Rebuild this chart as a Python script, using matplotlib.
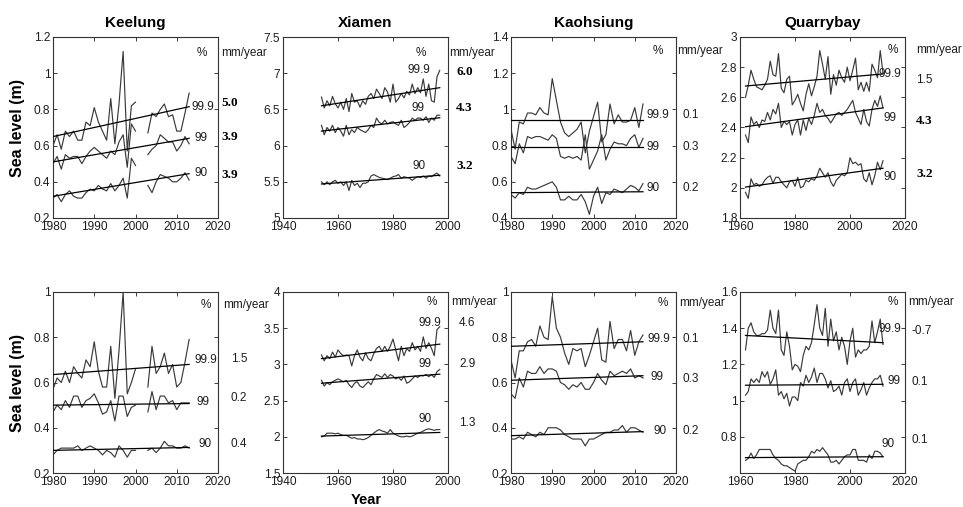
import numpy as np
import matplotlib
matplotlib.use("Agg")
import matplotlib.pyplot as plt
import matplotlib.transforms as mtransforms
from matplotlib.ticker import FormatStrFormatter

nan = np.nan

stations = ["Keelung", "Xiamen", "Kaohsiung", "Quarrybay"]
first_year = [1980, 1954, 1980, 1962]
last_year = [2013, 1997, 2012, 2012]
levels = ["99.9", "99", "90"]

# ---- upper row: sea level (m) per percentile ----
kee_top_999 = [0.60, 0.66, 0.58, 0.68, 0.65, 0.68, 0.63, 0.63, 0.73, 0.71,
               0.81, 0.73, 0.68, 0.63, 0.86, 0.61, 0.83, 1.12, 0.57, 0.82,
               0.84, nan, nan, 0.67, 0.78, 0.76, 0.80, 0.83, 0.76, 0.77,
               0.68, 0.68, 0.78, 0.89]
kee_top_99 = [0.50, 0.54, 0.47, 0.55, 0.53, 0.54, 0.54, 0.50, 0.54, 0.57,
              0.59, 0.57, 0.55, 0.53, 0.57, 0.55, 0.62, 0.66, 0.48, 0.72,
              0.68, nan, nan, 0.55, 0.58, 0.60, 0.66, 0.64, 0.62, 0.62,
              0.57, 0.60, 0.65, 0.61]
kee_top_90 = [0.31, 0.33, 0.29, 0.33, 0.35, 0.32, 0.31, 0.31, 0.34, 0.36,
              0.35, 0.38, 0.36, 0.35, 0.39, 0.35, 0.38, 0.42, 0.31, 0.53,
              0.49, nan, nan, 0.38, 0.34, 0.40, 0.44, 0.43, 0.42, 0.40,
              0.40, 0.42, 0.45, 0.41]

xia_top_999 = [6.67, 6.52, 6.62, 6.55, 6.68, 6.58, 6.52, 6.60, 6.50, 6.65,
               6.47, 6.72, 6.60, 6.62, 6.53, 6.62, 6.57, 6.68, 6.72, 6.65,
               6.78, 6.72, 6.65, 6.80, 6.74, 6.60, 6.85, 6.60, 6.65, 6.72,
               6.66, 6.75, 6.70, 6.85, 6.72, 6.80, 6.73, 6.92, 6.68, 6.85,
               6.62, 6.60, 6.95, 7.04]
xia_top_99 = [6.28, 6.15, 6.25, 6.20, 6.28, 6.18, 6.25, 6.20, 6.13, 6.28,
              6.15, 6.22, 6.18, 6.25, 6.22, 6.20, 6.18, 6.22, 6.28, 6.25,
              6.38, 6.32, 6.30, 6.35, 6.30, 6.32, 6.33, 6.30, 6.28, 6.35,
              6.25, 6.28, 6.32, 6.38, 6.35, 6.38, 6.38, 6.35, 6.40, 6.32,
              6.38, 6.35, 6.42, 6.42]
xia_top_90 = [5.50, 5.46, 5.50, 5.46, 5.50, 5.52, 5.48, 5.50, 5.45, 5.50,
              5.38, 5.52, 5.45, 5.48, 5.42, 5.48, 5.48, 5.50, 5.58, 5.60,
              5.58, 5.56, 5.55, 5.54, 5.53, 5.55, 5.57, 5.58, 5.60, 5.55,
              5.57, 5.56, 5.55, 5.52, 5.55, 5.57, 5.56, 5.58, 5.55, 5.58,
              5.57, 5.60, 5.62, 5.58]

kao_top_999 = [0.89, 0.78, 0.93, 0.92, 0.98, 0.98, 0.97, 1.01, 0.98, 0.97,
               1.17, 1.05, 0.93, 0.87, 0.85, 0.87, 0.89, 0.93, 0.76, 0.88,
               0.96, 1.04, 0.82, 0.86, 1.03, 0.92, 0.97, 0.93, 0.93, 0.94,
               1.01, 0.90, 1.03]
kao_top_99 = [0.74, 0.70, 0.81, 0.76, 0.85, 0.84, 0.85, 0.85, 0.84, 0.83,
              0.86, 0.84, 0.74, 0.73, 0.74, 0.73, 0.74, 0.72, 0.86, 0.67,
              0.72, 0.77, 0.86, 0.72, 0.78, 0.82, 0.81, 0.81, 0.80, 0.84,
              0.86, 0.79, 0.84]
kao_top_90 = [0.53, 0.51, 0.54, 0.53, 0.57, 0.56, 0.56, 0.57, 0.58, 0.59,
              0.60, 0.57, 0.50, 0.50, 0.52, 0.50, 0.50, 0.53, 0.49, 0.42,
              0.52, 0.57, 0.48, 0.54, 0.53, 0.56, 0.55, 0.54, 0.56, 0.58,
              0.57, 0.55, 0.59]

qua_top_999 = [2.60, 2.68, 2.78, 2.72, 2.67, 2.66, 2.65, 2.68, 2.72, 2.84,
               2.75, 2.74, 2.89, 2.66, 2.63, 2.72, 2.74, 2.55, 2.58, 2.62,
               2.56, 2.51, 2.62, 2.69, 2.61, 2.67, 2.74, 2.91, 2.82, 2.72,
               2.87, 2.62, 2.75, 2.68, 2.78, 2.73, 2.70, 2.80, 2.71, 2.78,
               2.86, 2.65, 2.70, 2.64, 2.70, 2.64, 2.82, 2.78, 2.73, 2.91,
               2.76]
qua_top_99 = [2.35, 2.30, 2.47, 2.42, 2.44, 2.40, 2.45, 2.44, 2.50, 2.45,
              2.52, 2.49, 2.56, 2.40, 2.44, 2.42, 2.44, 2.35, 2.42, 2.45,
              2.35, 2.45, 2.38, 2.46, 2.42, 2.48, 2.56, 2.50, 2.52, 2.48,
              2.46, 2.43, 2.46, 2.49, 2.50, 2.48, 2.50, 2.52, 2.55, 2.58,
              2.50, 2.46, 2.42, 2.52, 2.44, 2.41, 2.52, 2.58, 2.54, 2.61,
              2.53]
qua_top_90 = [1.97, 1.93, 2.06, 2.02, 2.03, 2.01, 2.02, 2.05, 2.07, 2.08,
              2.03, 2.07, 2.07, 2.04, 2.02, 2.00, 2.04, 2.05, 2.01, 2.07,
              2.00, 2.01, 2.05, 2.04, 2.06, 2.05, 2.08, 2.13, 2.10, 2.07,
              2.10, 2.04, 2.01, 2.05, 2.07, 2.09, 2.08, 2.10, 2.20, 2.16,
              2.17, 2.15, 2.16, 2.06, 2.04, 2.10, 2.02, 2.08, 2.17, 2.12,
              2.18]

# ---- lower row ----
kee_bot_999 = [0.57, 0.62, 0.60, 0.65, 0.60, 0.67, 0.64, 0.62, 0.70, 0.67,
               0.78, 0.65, 0.58, 0.58, 0.76, 0.53, 0.74, 1.00, 0.55, 0.60,
               0.66, nan, nan, 0.58, 0.76, 0.64, 0.67, 0.73, 0.64, 0.68,
               0.58, 0.60, 0.69, 0.79]
kee_bot_99 = [0.47, 0.50, 0.48, 0.52, 0.49, 0.54, 0.54, 0.49, 0.52, 0.53,
              0.55, 0.51, 0.46, 0.47, 0.52, 0.43, 0.54, 0.54, 0.45, 0.49,
              0.50, nan, nan, 0.47, 0.56, 0.48, 0.54, 0.54, 0.51, 0.52,
              0.48, 0.51, 0.51, 0.51]
kee_bot_90 = [0.28, 0.30, 0.31, 0.31, 0.31, 0.31, 0.32, 0.30, 0.31, 0.32,
              0.31, 0.30, 0.28, 0.30, 0.29, 0.27, 0.32, 0.30, 0.27, 0.30,
              0.30, nan, nan, 0.30, 0.31, 0.29, 0.31, 0.34, 0.32, 0.32,
              0.31, 0.31, 0.32, 0.31]

xia_bot_999 = [3.13, 3.05, 3.12, 3.08, 3.17, 3.10, 3.20, 3.15, 3.12, 3.13,
               3.12, 2.98, 3.12, 3.20, 3.10, 3.05, 3.16, 3.08, 3.05, 3.15,
               3.22, 3.25, 3.18, 3.25, 3.18, 3.25, 3.35, 3.20, 3.05, 3.25,
               3.12, 3.22, 3.18, 3.30, 3.20, 3.25, 3.18, 3.38, 3.22, 3.30,
               3.22, 3.12, 3.48, 3.52]
xia_bot_99 = [2.78, 2.70, 2.75, 2.72, 2.76, 2.78, 2.80, 2.78, 2.76, 2.78,
              2.72, 2.68, 2.74, 2.76, 2.70, 2.68, 2.72, 2.76, 2.72, 2.80,
              2.86, 2.84, 2.82, 2.87, 2.82, 2.86, 2.84, 2.80, 2.82, 2.78,
              2.84, 2.74, 2.76, 2.80, 2.84, 2.82, 2.85, 2.84, 2.86, 2.83,
              2.86, 2.82, 2.90, 2.93]
xia_bot_90 = [2.00, 2.01, 2.05, 2.05, 2.05, 2.04, 2.05, 2.03, 2.02, 2.02,
              2.00, 1.98, 1.99, 1.97, 1.97, 1.96, 1.97, 1.99, 2.02, 2.05,
              2.08, 2.10, 2.08, 2.07, 2.05, 2.10, 2.05, 2.03, 2.01, 2.00,
              2.00, 2.01, 2.00, 2.01, 2.03, 2.05, 2.06, 2.08, 2.10, 2.11,
              2.10, 2.09, 2.10, 2.10]

kao_bot_999 = [0.70, 0.62, 0.74, 0.74, 0.78, 0.79, 0.76, 0.85, 0.80, 0.79,
               0.98, 0.84, 0.80, 0.73, 0.68, 0.75, 0.74, 0.75, 0.67, 0.72,
               0.78, 0.84, 0.70, 0.69, 0.87, 0.75, 0.79, 0.79, 0.74, 0.83,
               0.72, 0.78, 0.81]
kao_bot_99 = [0.55, 0.53, 0.62, 0.58, 0.65, 0.64, 0.64, 0.67, 0.64, 0.66,
              0.66, 0.65, 0.60, 0.59, 0.57, 0.59, 0.58, 0.60, 0.57, 0.57,
              0.60, 0.64, 0.61, 0.59, 0.65, 0.63, 0.64, 0.65, 0.64, 0.66,
              0.62, 0.63, 0.62]
kao_bot_90 = [0.35, 0.35, 0.36, 0.35, 0.38, 0.37, 0.36, 0.38, 0.37, 0.40,
              0.40, 0.40, 0.39, 0.37, 0.36, 0.35, 0.35, 0.35, 0.32, 0.35,
              0.35, 0.36, 0.37, 0.38, 0.38, 0.39, 0.39, 0.41, 0.38, 0.40,
              0.40, 0.39, 0.38]

qua_bot_999 = [1.28, 1.40, 1.43, 1.38, 1.36, 1.36, 1.37, 1.37, 1.39, 1.50,
               1.40, 1.37, 1.50, 1.28, 1.25, 1.38, 1.30, 1.17, 1.20, 1.19,
               1.16, 1.25, 1.30, 1.28, 1.32, 1.42, 1.53, 1.40, 1.36, 1.51,
               1.30, 1.45, 1.33, 1.38, 1.28, 1.35, 1.30, 1.20, 1.33, 1.40,
               1.24, 1.28, 1.26, 1.28, 1.28, 1.30, 1.44, 1.32, 1.38, 1.45,
               1.31]
qua_bot_99 = [1.03, 1.05, 1.12, 1.10, 1.12, 1.10, 1.16, 1.13, 1.16, 1.09,
              1.12, 1.17, 1.03, 1.05, 1.01, 1.04, 0.97, 1.02, 1.02, 1.00,
              1.10, 1.08, 1.14, 1.10, 1.13, 1.18, 1.10, 1.15, 1.15, 1.12,
              1.07, 1.11, 1.05, 1.06, 1.08, 1.03, 1.10, 1.12, 1.05, 1.10,
              1.12, 1.03, 1.06, 1.10, 1.03, 1.07, 1.10, 1.12, 1.12, 1.14,
              1.08]
qua_bot_90 = [0.67, 0.68, 0.71, 0.68, 0.70, 0.73, 0.73, 0.73, 0.73, 0.73,
              0.70, 0.68, 0.67, 0.65, 0.64, 0.64, 0.63, 0.62, 0.61, 0.65,
              0.66, 0.67, 0.67, 0.69, 0.72, 0.71, 0.73, 0.72, 0.74, 0.72,
              0.70, 0.66, 0.66, 0.67, 0.65, 0.67, 0.69, 0.70, 0.70, 0.73,
              0.73, 0.67, 0.67, 0.67, 0.66, 0.70, 0.68, 0.72, 0.72, 0.71,
              0.69]

# linear trend values at first and last year, per percentile
trend_top = [
    [[0.65, 0.815], [0.51, 0.64], [0.32, 0.445]],
    [[6.55, 6.80], [6.20, 6.385], [5.47, 5.59]],
    [[0.94, 0.94], [0.79, 0.79], [0.54, 0.545]],
    [[2.675, 2.755], [2.405, 2.53], [2.005, 2.13]],
]
trend_bot = [
    [[0.635, 0.68], [0.50, 0.507], [0.30, 0.313]],
    [[3.08, 3.28], [2.74, 2.865], [2.01, 2.06]],
    [[0.76, 0.78], [0.61, 0.63], [0.365, 0.383]],
    [[1.36, 1.32], [1.085, 1.09], [0.685, 0.69]],
]

# trend rates (mm/year)
rates_top = [["5.0", "3.9", "3.9"], ["6.0", "4.3", "3.2"],
             ["0.1", "0.3", "0.2"], ["1.5", "4.3", "3.2"]]
rates_bot = [["1.5", "0.2", "0.4"], ["4.6", "2.9", "1.3"],
             ["0.1", "0.3", "0.2"], ["-0.7", "0.1", "0.1"]]

series_top = [[kee_top_999, kee_top_99, kee_top_90],
              [xia_top_999, xia_top_99, xia_top_90],
              [kao_top_999, kao_top_99, kao_top_90],
              [qua_top_999, qua_top_99, qua_top_90]]
series_bot = [[kee_bot_999, kee_bot_99, kee_bot_90],
              [xia_bot_999, xia_bot_99, xia_bot_90],
              [kao_bot_999, kao_bot_99, kao_bot_90],
              [qua_bot_999, qua_bot_99, qua_bot_90]]

# ---------------- layout ----------------
W, H = 963, 507
SANS = "Liberation Sans"
SERIF = "Liberation Serif"
TXT = "#1e1e1e"
LINE = "#3a3a3a"

xlims = [(1980, 2020), (1940, 2000), (1980, 2020), (1960, 2020)]
xsteps = [10, 20, 10, 20]
ylims_top = [(0.2, 1.2, 0.2), (5, 7.5, 0.5), (0.4, 1.4, 0.2), (1.8, 3.0, 0.2)]
ylims_bot = [(0.2, 1.0, 0.2), (1.5, 4.0, 0.5), (0.2, 1.0, 0.2), (0.6, 1.6, 0.2)]

# percentile label anchors (x in years, y in data units)
lab_top = [
    [(2013.5, 0.815), (2014.2, 0.64), (2014.4, 0.45)],
    [(1985.3, 7.04), (1986.8, 6.52), (1987.2, 5.72)],
    [(2012.9, 0.97), (2012.9, 0.795), (2012.9, 0.565)],
    [(2010.2, 2.754), (2012.0, 2.46), (2012.0, 2.073)],
]
lab_bot = [
    [(2014.2, 0.70), (2014.8, 0.515), (2015.2, 0.326)],
    [(1989.2, 3.57), (1989.2, 3.0), (1989.2, 2.24)],
    [(2013.2, 0.793), (2013.8, 0.625), (2014.5, 0.385)],
    [(2010.2, 1.396), (2013.5, 1.109), (2011.5, 0.761)],
]
# rate text: x in axes fraction, y in data units
rate_top = [
    (1.02, [0.835, 0.65, 0.44]),
    (1.05, [7.02, 6.52, 5.72]),
    (1.04, [0.97, 0.795, 0.565]),
    (1.067, [2.717, 2.44, 2.094]),
]
rate_bot = [
    (1.077, [0.704, 0.533, 0.326]),
    (1.067, [3.57, 3.0, 2.19]),
    (1.04, [0.793, 0.615, 0.385]),
    (1.04, [1.387, 1.105, 0.78]),
]
bold_top = [[True] * 3, [True] * 3, [False] * 3, [False, True, True]]
bold_bot = [[False] * 3] * 4
# "%" centre (axes x, axes y) and "mm/year" left x
hdr_top = [(0.90, 0.91, 1.02), (0.835, 0.91, 1.01), (0.89, 0.92, 1.01), (0.925, 0.93, 1.067)]
hdr_bot = [(0.927, 0.93, 1.03), (0.90, 0.946, 1.02), (0.92, 0.94, 1.02), (0.925, 0.946, 1.02)]

col_left = [53, 283, 511, 740]
row_top_px = [37, 292]
ax_w, ax_h = 165, 181

fig = plt.figure(figsize=(W / 100, H / 100), dpi=100)


def draw_panel(ax, j, series, trends, rates, ylim, labs, rpos, bold, hdr):
    years = np.arange(first_year[j], last_year[j] + 1)
    for k in range(3):
        ax.plot(years, series[k], color=LINE, lw=0.85, zorder=2)
        ax.plot([years[0], years[-1]], trends[k], color="black", lw=0.9, zorder=3)
        ax.text(labs[k][0], labs[k][1], levels[k], ha="left", va="center",
                fontsize=8.5, family=SANS, color=TXT)
        tr = mtransforms.blended_transform_factory(ax.transAxes, ax.transData)
        if bold[k]:
            ax.text(rpos[0], rpos[1][k], rates[k], transform=tr, ha="left",
                    va="center", fontsize=9.5, family=SERIF, weight="bold",
                    color="black", clip_on=False)
        else:
            ax.text(rpos[0], rpos[1][k], rates[k], transform=tr, ha="left",
                    va="center", fontsize=8.5, family=SANS, color=TXT,
                    clip_on=False)
    ax.text(hdr[0], hdr[1], "%", transform=ax.transAxes, ha="center",
            va="center", fontsize=8.5, family=SANS, color=TXT)
    ax.text(hdr[2], hdr[1], "mm/year", transform=ax.transAxes, ha="left",
            va="center", fontsize=8.5, family=SANS, color=TXT, clip_on=False)

    x0, x1 = xlims[j]
    ax.set_xlim(x0, x1)
    ax.set_xticks(np.arange(x0, x1 + 1, xsteps[j]))
    y0, y1, ys = ylim
    ax.set_ylim(y0, y1)
    yt = np.round(np.arange(y0, y1 + ys / 2, ys), 3)
    if j == 3 and y0 == 0.6:
        yt = yt[1:]
    ax.set_yticks(yt)
    ax.yaxis.set_major_formatter(FormatStrFormatter("%g"))
    ax.tick_params(direction="in", length=3, width=0.6, top=True, right=True,
                   labelsize=8.6, pad=2, colors=TXT, labelcolor=TXT)
    for lab in ax.get_xticklabels() + ax.get_yticklabels():
        lab.set_family(SANS)
    for s in ax.spines.values():
        s.set_linewidth(0.8)
        s.set_color("#333333")


for r in range(2):
    for j in range(4):
        left = col_left[j] / W
        bottom = 1 - (row_top_px[r] + ax_h) / H
        ax = fig.add_axes([left, bottom, ax_w / W, ax_h / H])
        if r == 0:
            draw_panel(ax, j, series_top[j], trend_top[j], rates_top[j],
                       ylims_top[j], lab_top[j], rate_top[j], bold_top[j], hdr_top[j])
            ax.set_title(stations[j], fontsize=11, weight="bold", family=SANS,
                         pad=7, color="black")
        else:
            draw_panel(ax, j, series_bot[j], trend_bot[j], rates_bot[j],
                       ylims_bot[j], lab_bot[j], rate_bot[j], bold_bot[j], hdr_bot[j])

for r in range(2):
    yc = 1 - (row_top_px[r] + ax_h / 2) / H
    fig.text(18 / W, yc, "Sea level (m)", rotation=90, ha="center", va="center",
             fontsize=11.5, weight="bold", family=SANS, color="black")

fig.text(366 / W, 1 - 500 / H, "Year", ha="center", va="center",
         fontsize=10.5, weight="bold", family=SANS, color="black")

fig.savefig("out.png", dpi=100, facecolor="white")
